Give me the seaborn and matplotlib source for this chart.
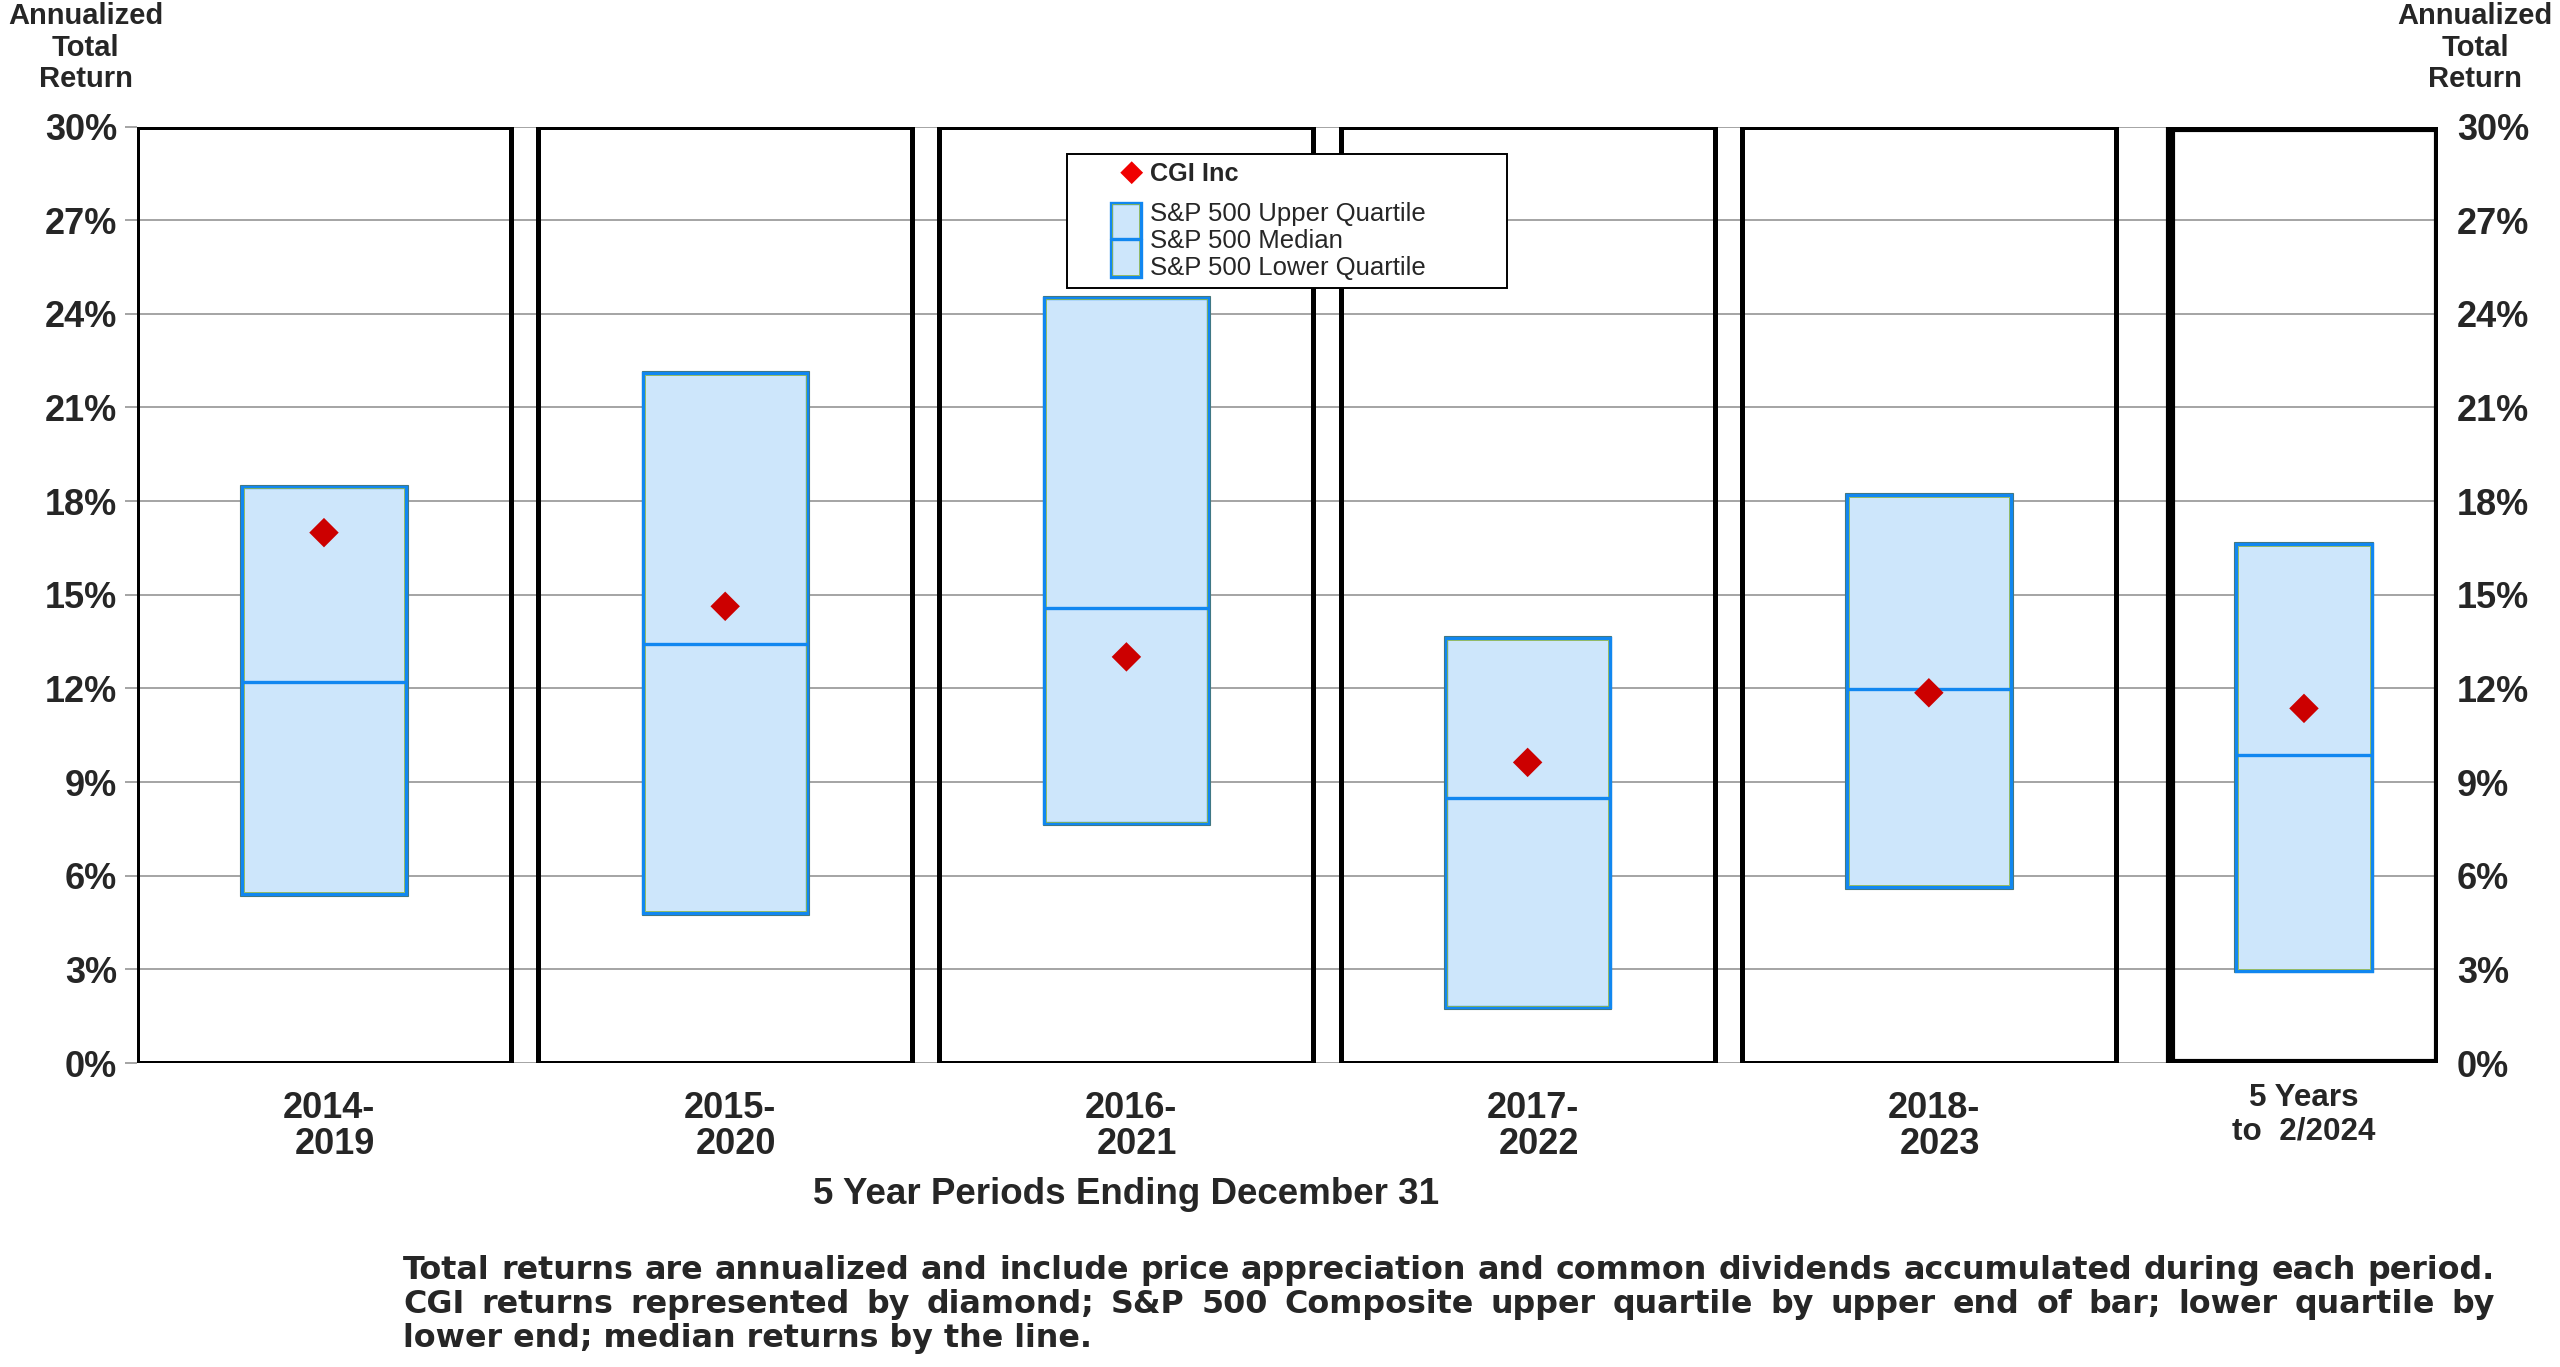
import numpy as np
import pandas as pd
import matplotlib
matplotlib.use("Agg")
import matplotlib.pyplot as plt
import matplotlib.transforms as mtransforms
import seaborn as sns
from matplotlib.patches import Rectangle

# ---------------- data ----------------
periods = ["2014-\n2019", "2015-\n2020", "2016-\n2021", "2017-\n2022", "2018-\n2023", "5 Years\nto  2/2024"]
upper_quartile = [18.46, 22.10, 24.52, 13.62, 18.19, 16.62]
median_return = [12.22, 13.43, 14.58, 8.48, 11.97, 9.87]
lower_quartile = [5.41, 4.81, 7.68, 1.78, 5.64, 2.96]
cgi_return = [16.99, 14.63, 13.01, 9.63, 11.86, 11.36]
y_ticks = [0, 3, 6, 9, 12, 15, 18, 21, 24, 27, 30]
y_tick_labels = [f"{v}%" for v in y_ticks]
legend_labels = ["CGI Inc", "S&P 500 Upper Quartile", "S&P 500 Median", "S&P 500 Lower Quartile"]
axis_title = "5 Year Periods Ending December 31"
side_title = ["Annualized", "Total", "Return"]
footnote = [
    "Total returns are annualized and include price appreciation and common dividends accumulated during each period.",
    "CGI returns represented by diamond; S&P 500 Composite upper quartile by upper end of bar; lower quartile by",
    "lower end; median returns by the line.",
]

# ---------------- layout ----------------
positions = [0, 1, 2, 3, 4, 4.935]
panel_half = [0.466] * 5 + [0.333]
box_half = [0.2044] * 5 + [0.169]
panel_lw = [3.6] * 5 + [6.6]

BOX_FILL = "#cde6fb"
BOX_EDGE = "#1187f0"
INNER = "#8db54c"
OUTER = "#4a7670"
GRID = "#8c8c8c"
DIAMOND = "#cc0000"

sns.set_theme(style="white")
plt.rcParams["font.family"] = ["Liberation Sans", "DejaVu Sans"]

fig = plt.figure(figsize=(25.6, 13.67), dpi=100)
ax = fig.add_axes([0.05352, 0.22238, 0.89882, 0.68508])
ax.set_xlim(-0.466, 5.269)
ax.set_ylim(0, 30)

df = pd.DataFrame({
    "pos": positions,
    "period": periods,
    "upper": upper_quartile,
    "median": median_return,
    "lower": lower_quartile,
    "cgi": cgi_return,
    "bw": [2 * b for b in box_half],
})

# grid
ax.set_yticks(y_ticks, y_tick_labels)
ax.yaxis.grid(True, color=GRID, linewidth=1.1)
ax.xaxis.grid(False)
ax.set_axisbelow(True)
for s in ax.spines.values():
    s.set_visible(False)

# panels
for p, ph, lw in zip(positions, panel_half, panel_lw):
    ax.add_patch(Rectangle((p - ph, 0), 2 * ph, 30, fill=False, edgecolor="black",
                           linewidth=lw, zorder=3, joinstyle="miter"))

# boxes
ax.bar(df["pos"], df["upper"] - df["lower"] + 0.11, bottom=df["lower"] - 0.055, width=df["bw"] + 0.0084,
       fill=False, edgecolor=OUTER, linewidth=0.8, zorder=3.9)
ax.bar(df["pos"], df["upper"] - df["lower"], bottom=df["lower"], width=df["bw"],
       color=BOX_FILL, edgecolor=BOX_EDGE, linewidth=2.4, zorder=4)
ax.bar(df["pos"], df["upper"] - df["lower"] - 0.11, bottom=df["lower"] + 0.055,
       width=df["bw"] - 0.0084, fill=False, edgecolor=INNER, linewidth=0.6, zorder=4.5)
ax.hlines(df["median"], df["pos"] - df["bw"] / 2, df["pos"] + df["bw"] / 2,
          color=BOX_EDGE, linewidth=2.4, zorder=5)

# diamonds
sns.scatterplot(data=df, x="pos", y="cgi", marker="D", s=225, color=DIAMOND,
                edgecolor="none", linewidth=0, ax=ax, zorder=6, legend=False)
ax.set_xlabel("")
ax.set_ylabel("")

# x tick labels
ax.set_xticks(positions, periods)
ax.tick_params(axis="x", length=0, pad=20.2, labelsize=26)
for i, lbl in enumerate(ax.get_xticklabels()):
    lbl.set_fontweight("bold")
    if i < 5:
        lbl.set_linespacing(1.04)
        lbl.set_multialignment("right")
        off = mtransforms.ScaledTranslation(0.05, 0, fig.dpi_scale_trans)
    else:
        lbl.set_fontsize(22.6)
        lbl.set_linespacing(1.13)
        lbl.set_multialignment("center")
        off = mtransforms.ScaledTranslation(0, 0.08, fig.dpi_scale_trans)
    lbl.set_transform(lbl.get_transform() + off)

# y tick labels left
ax.tick_params(axis="y", left=True, right=False, length=8.6, width=1.1, color=GRID,
               pad=5.8, labelsize=26)
for lbl in ax.get_yticklabels():
    lbl.set_fontweight("bold")

# y tick labels right
ax2 = ax.twinx()
ax2.set_ylim(0, 30)
ax2.set_yticks(y_ticks, y_tick_labels)
ax2.grid(False)
for s in ax2.spines.values():
    s.set_visible(False)
ax2.tick_params(axis="y", length=0, pad=13.7, labelsize=26)
for lbl in ax2.get_yticklabels():
    lbl.set_fontweight("bold")

# ---------------- overlay (pixel coords) ----------------
ov = fig.add_axes([0, 0, 1, 1])
ov.set_xlim(0, 2560)
ov.set_ylim(1367, 0)
ov.axis("off")
ov.set_zorder(10)

# side titles
for cx in (85.5, 2475):
    for txt, by in zip(side_title, (24, 55.5, 87)):
        ov.text(cx, by, txt, fontsize=21, fontweight="bold", ha="center", va="baseline")

# legend
ov.add_patch(Rectangle((1067, 154), 440, 134, facecolor="white", edgecolor="black", linewidth=1.4, zorder=1))
ov.scatter([1131.7], [172.7], marker="D", s=135, color="#f00000", edgecolor="none", zorder=3)
ov.text(1150, 181, legend_labels[0], fontsize=18.2, fontweight="bold", ha="left", va="baseline", zorder=3)
for txt, by in zip(legend_labels[1:], (221, 248, 275.5)):
    ov.text(1150, by, txt, fontsize=18.5, ha="left", va="baseline", zorder=3)
ov.add_patch(Rectangle((1110.7, 202.7), 30.3, 74, facecolor=BOX_FILL, edgecolor=BOX_EDGE, linewidth=2.4, zorder=2))
ov.add_patch(Rectangle((1112.4, 204.4), 26.9, 70.6, fill=False, edgecolor=INNER, linewidth=0.6, zorder=2.5))
ov.plot([1110.7, 1141], [239, 239], color=BOX_EDGE, linewidth=2.4, zorder=3)

# axis title
ov.text(1126, 1204, axis_title, fontsize=26.5, fontweight="bold", ha="center", va="baseline")

# footnote: wide face, size fitted so line 1 spans the block; line 2 justified
renderer = fig.canvas.get_renderer()
x0, x1 = 403, 2495
FOOT_FAMILY = ["DejaVu Sans"]
probe = ov.text(0, 0, footnote[0], fontsize=20, fontweight="bold", family=FOOT_FAMILY)
natural = probe.get_window_extent(renderer).width
probe.remove()
FOOT_SIZE = min(23.5, 20 * (x1 - x0) / natural)
for k, (line, by) in enumerate(zip(footnote, (1279, 1313, 1347))):
    if k < 2:
        words = line.split(" ")
        texts = [ov.text(0, by, w, fontsize=FOOT_SIZE, fontweight="bold", family=FOOT_FAMILY,
                         ha="left", va="baseline") for w in words]
        widths = [t.get_window_extent(renderer).width for t in texts]
        gap = (x1 - x0 - sum(widths)) / (len(words) - 1)
        x = x0
        for t, w in zip(texts, widths):
            t.set_x(x)
            x += w + gap
    else:
        ov.text(x0, by, line, fontsize=FOOT_SIZE, fontweight="bold", family=FOOT_FAMILY,
                ha="left", va="baseline")

fig.savefig("out.png", dpi=100)
